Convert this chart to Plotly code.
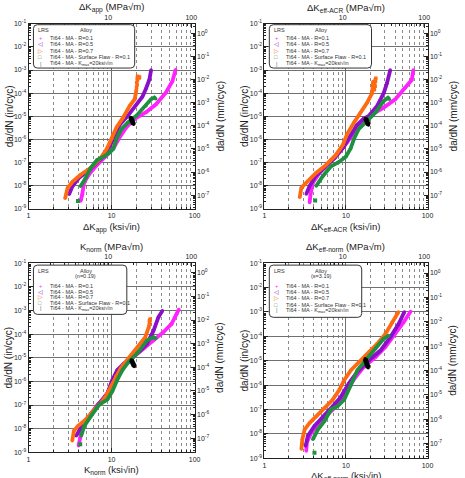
import math
import plotly.graph_objects as go

W, H = 465, 478
FONT = "Liberation Sans, Arial, sans-serif"
KSI_TO_MPA = 1.0988
IN_TO_MM = 25.4

C_R01 = "#ff22ff"
C_R05 = "#8a10c8"
C_R07 = "#ff6a10"
C_SF = "#1f9040"
C_KMAX = "#000000"

SERIES_NAMES = ["Ti64 - MA - R=0.1", "Ti64 - MA - R=0.5", "Ti64 - MA - R=0.7",
                "Ti64 - MA - Surface Flaw - R=0.1", "Ti64 - MA - K<sub>max</sub>=20ksi√in"]

# ---------------- Panel 1 : dK_app ----------------
P1_R01_X = [4.24, 4.44, 4.64, 5.31, 6.68, 8.4, 10.5, 12.6, 15.1, 19.0, 26.0, 34.3, 45.0, 54.0, 59.0]
P1_R01_Y = [2.2e-9, 4.3e-9, 1.3e-8, 3.0e-8, 8.0e-8, 1.8e-7, 4.0e-7, 1.3e-6, 3.4e-6, 7.7e-6, 1.5e-5, 3.3e-5, 1.05e-4, 3.3e-4, 1.02e-3]
P1_R05_X = [3.08, 3.38, 4.1, 5.5, 7.5, 9.5, 11.3, 12.6, 15.5, 19.9, 23.5, 26.0, 28.6, 29.9]
P1_R05_Y = [4.3e-9, 9.5e-9, 2.3e-8, 5.2e-8, 1.5e-7, 5.0e-7, 2.0e-6, 4.5e-6, 1.0e-5, 3.2e-5, 7.0e-5, 1.6e-4, 4.0e-4, 1.0e-3]
P1_R07_X = [2.76, 2.95, 3.38, 4.24, 5.57, 7.3, 8.77, 10.05, 11.5, 13.8, 16.6, 19.0, 19.9]
P1_R07_Y = [2.9e-9, 8e-9, 1.5e-8, 3e-8, 5.8e-8, 1.5e-7, 4e-7, 1.07e-6, 3.4e-6, 9e-6, 2.9e-5, 5.5e-5, 1.4e-4]
P1_R07T_X = [20.0, 20.3, 20.1, 20.5, 20.4, 20.6, 21.5, 21.7]
P1_R07T_Y = [1.8e-4, 2.3e-4, 2.9e-4, 3.6e-4, 4.4e-4, 5.4e-4, 4.5e-4, 5.0e-4]
P1_SF_X = [4.24, 4.85, 5.57, 6.68, 8.0, 9.2, 10.5, 11.5, 13.2, 15.8, 19.9, 26.0, 29.9, 32.7, 34.0]
P1_SF_Y = [9.5e-9, 2.1e-8, 5.7e-8, 1.3e-7, 1.8e-7, 2.5e-7, 4e-7, 1.1e-6, 2.9e-6, 5.5e-6, 1.07e-5, 2.9e-5, 5.5e-5, 6.5e-5, 5.8e-5]
P1_SFI_X = [3.94]
P1_SFI_Y = [2.2e-9]
P1_KM_X = [17.0, 17.3, 17.6, 17.9, 18.2, 18.4]
P1_KM_Y = [9e-6, 8e-6, 7e-6, 6e-6, 5e-6, 4.5e-6]

# ---------------- Panel 2 : dK_eff-ACR ----------------
P2_R01_X = [3.58, 3.68, 3.93, 4.73, 6.25, 8.3, 10.4, 12.6, 15.9, 20.9, 29.0, 40.2, 53.0, 64.0, 67.0]
P2_R01_Y = [1.9e-9, 4.4e-9, 1.35e-8, 3.6e-8, 1.1e-7, 3e-7, 7.8e-7, 2.1e-6, 5.5e-6, 1.23e-5, 2.4e-5, 5.4e-5, 1.7e-4, 3.7e-4, 1.0e-3]
P2_R05_X = [3.26, 3.58, 4.2, 5.5, 7.3, 9.3, 11.3, 13.5, 16.5, 19.1, 24.1, 29.0, 31.8, 34.9]
P2_R05_Y = [4.4e-9, 9.8e-9, 2.5e-8, 6e-8, 1.6e-7, 4.5e-7, 1.5e-6, 4e-6, 8e-6, 1.05e-5, 2.8e-5, 1e-4, 2.7e-4, 1e-3]
P2_R07_X = [2.71, 2.84, 3.41, 4.3, 5.7, 7.5, 9.1, 10.4, 12.6, 15.1, 18.2, 20.9, 21.5]
P2_R07_Y = [3.2e-9, 8.3e-9, 1.6e-8, 3.6e-8, 8e-8, 2.1e-7, 5.7e-7, 1.8e-6, 5.5e-6, 1.45e-5, 3.9e-5, 1e-4, 3.2e-4]
P2_R07T_X = [22.3, 22.8, 22.5, 23.0, 22.9, 23.2]
P2_R07T_Y = [1.4e-4, 2.0e-4, 2.6e-4, 3.3e-4, 3.8e-4, 4.4e-4]
P2_SF_X = [4.31, 5.19, 6.55, 8.3, 9.96, 11.4, 12.6, 14.4, 17.4, 23.0, 29.0, 32.7, 34.0]
P2_SF_Y = [9.8e-9, 2.6e-8, 6.9e-8, 1.1e-7, 1.8e-7, 4.1e-7, 1.1e-6, 2.9e-6, 5.5e-6, 1.45e-5, 4.6e-5, 6.3e-5, 5.5e-5]
P2_SFI_X = [4.19]
P2_SFI_Y = [2.3e-9]
P2_KM_X = [17.4, 17.7, 18.0, 18.3, 18.6, 18.9]
P2_KM_Y = [8e-6, 7e-6, 6e-6, 5.3e-6, 4.7e-6, 4.2e-6]

# ---------------- Panel 3 : K_norm ----------------
P3_R01_X = [4.0, 4.23, 4.5, 5.4, 6.8, 8.5, 10.2, 12.3, 14.7, 18.5, 24.3, 32.0, 42.0, 52.8, 60.6, 64.6]
P3_R01_Y = [1.9e-9, 5e-9, 1.3e-8, 3.4e-8, 1.05e-7, 2.3e-7, 6e-7, 1.9e-6, 4.9e-6, 1.1e-5, 2.4e-5, 5.4e-5, 1.2e-4, 2.7e-4, 6.9e-4, 1.1e-3]
P3_R05_X = [3.75, 4.11, 4.6, 5.6, 7.0, 8.9, 10.2, 11.7, 14.1, 17.7, 22.2, 26.7, 32.0, 36.6, 40.9]
P3_R05_Y = [5e-9, 9.5e-9, 1.8e-8, 4e-8, 1.1e-7, 3.2e-7, 1.15e-6, 3e-6, 5.7e-6, 1.1e-5, 2e-5, 3.9e-5, 1.4e-4, 5.1e-4, 9.6e-4]
P3_R07_X = [3.36, 3.52, 3.93, 4.93, 6.2, 7.4, 8.5, 9.8, 11.2, 12.9, 15.4, 18.5, 22.2, 25.5, 27.9]
P3_R07_Y = [3.1e-9, 8.1e-9, 1.3e-8, 2.5e-8, 6.4e-8, 1.2e-7, 2.3e-7, 6e-7, 1.6e-6, 3.6e-6, 8e-6, 1.75e-5, 3.9e-5, 7.4e-5, 1.9e-4]
P3_R07T_X = [28.1, 28.3, 28.8, 28.5, 29.0, 29.2]
P3_R07T_Y = [2.0e-4, 2.4e-4, 3.0e-4, 3.6e-4, 3.9e-4, 4.4e-4]
P3_SF_X = [4.3, 4.7, 5.65, 7.1, 8.9, 10.2, 11.7, 13.5, 16.1, 20.3, 26.7, 32.0, 34.0]
P3_SF_Y = [5e-9, 1.3e-8, 3.4e-8, 1.05e-7, 1.7e-7, 3.8e-7, 1.15e-6, 3e-6, 6.8e-6, 1.5e-5, 5.4e-5, 7.4e-5, 6.5e-5]
P3_SFI_X = [4.19]
P3_SFI_Y = [2.2e-9]
P3_KM_X = [17.3, 17.6, 17.9, 18.2, 18.5, 18.8]
P3_KM_Y = [8e-6, 7e-6, 6.2e-6, 5.4e-6, 4.8e-6, 4.3e-6]

# ---------------- Panel 4 : dK_eff-norm ----------------
P4_R01_X = [3.26, 3.32, 3.75, 4.52, 5.7, 7.5, 9.1, 10.9, 13.2, 16.6, 23.0, 30.4, 40.2, 50.7, 62.0]
P4_R01_Y = [2e-9, 4.5e-9, 1.1e-8, 2.4e-8, 5.3e-8, 1.35e-7, 2.5e-7, 8.7e-7, 2.2e-6, 5.6e-6, 1.4e-5, 3.6e-5, 1.26e-4, 3.7e-4, 1.05e-3]
P4_R05_X = [3.2, 3.41, 4.11, 5.3, 6.86, 8.5, 10.9, 13.8, 19.1, 26.4, 34.9, 44.1, 52.0]
P4_R05_Y = [3.2e-9, 8.3e-9, 2.1e-8, 5e-8, 1.35e-7, 3e-7, 1.2e-6, 3.5e-6, 1.05e-5, 2.6e-5, 9.1e-5, 3.2e-4, 1e-3]
P4_R07_X = [2.84, 2.92, 3.11, 3.58, 4.31, 5.44, 6.86, 8.26, 9.5, 11.5, 14.4, 19.1, 24.1, 30.4, 36.6, 44.0]
P4_R07_Y = [2.4e-9, 6e-9, 1.5e-8, 2.8e-8, 5.2e-8, 1.15e-7, 2.5e-7, 6.3e-7, 1.6e-6, 4.1e-6, 8.9e-6, 2.3e-5, 4.9e-5, 1.26e-4, 3.7e-4, 1e-3]
P4_R07T_X = []
P4_R07T_Y = []
P4_SF_X = [3.93, 4.52, 5.44, 6.55, 7.9, 9.5, 11.5, 13.8, 17.4, 23.0, 29.0, 33.4]
P4_SF_Y = [6e-9, 1.5e-8, 3.3e-8, 1e-7, 1.35e-7, 2.5e-7, 1e-6, 4.1e-6, 1.05e-5, 3.1e-5, 7.9e-5, 1.07e-4]
P4_SFI_X = [4.11]
P4_SFI_Y = [1.7e-9]
P4_KM_X = [17.2, 17.5, 17.8, 18.1, 18.4, 18.7]
P4_KM_Y = [1.2e-5, 1.0e-5, 8.5e-6, 7e-6, 6e-6, 5.2e-6]

PANEL_DATA = [
    dict(r01=(P1_R01_X, P1_R01_Y), r05=(P1_R05_X, P1_R05_Y), r07=(P1_R07_X, P1_R07_Y),
         r07t=(P1_R07T_X, P1_R07T_Y), sf=(P1_SF_X, P1_SF_Y), sfi=(P1_SFI_X, P1_SFI_Y), km=(P1_KM_X, P1_KM_Y)),
    dict(r01=(P2_R01_X, P2_R01_Y), r05=(P2_R05_X, P2_R05_Y), r07=(P2_R07_X, P2_R07_Y),
         r07t=(P2_R07T_X, P2_R07T_Y), sf=(P2_SF_X, P2_SF_Y), sfi=(P2_SFI_X, P2_SFI_Y), km=(P2_KM_X, P2_KM_Y)),
    dict(r01=(P3_R01_X, P3_R01_Y), r05=(P3_R05_X, P3_R05_Y), r07=(P3_R07_X, P3_R07_Y),
         r07t=(P3_R07T_X, P3_R07T_Y), sf=(P3_SF_X, P3_SF_Y), sfi=(P3_SFI_X, P3_SFI_Y), km=(P3_KM_X, P3_KM_Y)),
    dict(r01=(P4_R01_X, P4_R01_Y), r05=(P4_R05_X, P4_R05_Y), r07=(P4_R07_X, P4_R07_Y),
         r07t=(P4_R07T_X, P4_R07T_Y), sf=(P4_SF_X, P4_SF_Y), sfi=(P4_SFI_X, P4_SFI_Y), km=(P4_KM_X, P4_KM_Y)),
]

X_TICKS = [1, 10, 100]
X_TICK_TEXT = ["1", "10", "100"]
TOP_TICKS = [10, 100]
TOP_TICK_TEXT = ["10", "100"]
Y_EXPS = list(range(-9, 0))
R_EXPS = list(range(-7, 1))

# panel boxes in pixels: x0, x1, y0(top), y1(bottom)
PANELS = [
    dict(box=(27, 196, 20, 208), xsym="ΔK<sub>app</sub>", extra=None,
         leg=(32, 135, 21, 65)),
    dict(box=(267, 433, 20, 208), xsym="ΔK<sub>eff-ACR</sub>", extra=None,
         leg=(272, 376, 21, 65)),
    dict(box=(27, 196, 263, 455), xsym="K<sub>norm</sub>", extra="(n=0.19)",
         leg=(32, 127, 265, 315)),
    dict(box=(267, 433, 263, 461), xsym="ΔK<sub>eff-norm</sub>", extra="(s=3.19)",
         leg=(272, 366, 265, 318)),
]
LEG_ROWS = [
    [34.5, 41.0, 47.5, 54.0, 60.5],
    [34.5, 41.0, 47.5, 54.0, 60.5],
    [286.5, 291.8, 297.0, 303.3, 308.7],
    [286.5, 292.5, 298.5, 305.0, 311.0],
]


def px(x):
    return x / W


def py(y):
    return 1 - y / H


def aname(kind, n):
    return f"{kind}axis" if n == 1 else f"{kind}axis{n}"


def aref(kind, n):
    return kind if n == 1 else f"{kind}{n}"


def minors(lo_dec, hi_dec):
    out = []
    for d in range(lo_dec, hi_dec):
        for m in range(2, 10):
            out.append(m * 10 ** d)
    return out


fig = go.Figure()
layout = dict(width=W, height=H, margin=dict(l=0, r=0, t=0, b=0),
              paper_bgcolor="white", plot_bgcolor="white", showlegend=False,
              font=dict(family=FONT, color="#222"))
shapes = []
annotations = []

AXCOL = "#222"
GRID = "#707070"
GRID_DASH = "#8a8a8a"

for k, p in enumerate(PANELS):
    bx, tx = 2 * k + 1, 2 * k + 2
    ly, ry = 2 * k + 1, 2 * k + 2
    x0, x1, y0, y1 = p["box"]
    xdom = [px(x0), px(x1)]
    ydom = [py(y1), py(y0)]
    common = dict(type="log", showline=True, linecolor=AXCOL, linewidth=1, zeroline=False,
                  color="#222", ticks="inside", ticklen=4, tickcolor=AXCOL,
                  tickfont=dict(size=7, color="#222", family=FONT))
    layout[aname("x", bx)] = dict(
        domain=xdom, anchor=aref("y", ly), range=[0, 2], tickmode="array",
        tickvals=X_TICKS, ticktext=X_TICK_TEXT, showgrid=True, gridcolor=GRID, gridwidth=1,
        minor=dict(tickmode="array", tickvals=minors(0, 2), ticks="inside", ticklen=2,
                   tickcolor=AXCOL, showgrid=True, gridcolor=GRID_DASH, griddash="3px,3px", gridwidth=1),
        **common)
    layout[aname("x", tx)] = dict(
        domain=xdom, anchor=aref("y", ly), overlaying=aref("x", bx), side="top",
        range=[math.log10(KSI_TO_MPA), math.log10(100 * KSI_TO_MPA)], tickmode="array",
        tickvals=TOP_TICKS, ticktext=TOP_TICK_TEXT, showgrid=False,
        minor=dict(tickmode="array", tickvals=minors(0, 3), ticks="inside", ticklen=2, tickcolor=AXCOL),
        **common)
    layout[aname("y", ly)] = dict(
        domain=ydom, anchor=aref("x", bx), range=[-9, -1], tickmode="array",
        tickvals=[10.0 ** e for e in Y_EXPS], ticktext=[f"10<sup>{e}</sup>" for e in Y_EXPS],
        showgrid=True, gridcolor=GRID, gridwidth=1,
        minor=dict(tickmode="array", tickvals=minors(-9, -1), ticks="inside", ticklen=2, tickcolor=AXCOL),
        **common)
    layout[aname("y", ry)] = dict(
        domain=ydom, anchor=aref("x", bx), overlaying=aref("y", ly), side="right",
        range=[math.log10(1e-9 * IN_TO_MM), math.log10(1e-1 * IN_TO_MM)], tickmode="array",
        tickvals=[10.0 ** e for e in R_EXPS], ticktext=[f"10<sup>{e}</sup>" for e in R_EXPS],
        showgrid=False,
        minor=dict(tickmode="array", tickvals=minors(-8, 1), ticks="inside", ticklen=2, tickcolor=AXCOL),
        **common)

    # empty trace so that the secondary (MPa / mm) axes get drawn
    fig.add_trace(go.Scatter(x=[], y=[], mode="markers", xaxis=aref("x", tx), yaxis=aref("y", ry),
                             hoverinfo="skip"))

    d = PANEL_DATA[k]
    xr, yr = aref("x", bx), aref("y", ly)

    def line_trace(xy, color, width=3.8):
        fig.add_trace(go.Scatter(x=xy[0], y=xy[1], mode="lines+markers", xaxis=xr, yaxis=yr,
                                 line=dict(color=color, width=width),
                                 marker=dict(color=color, size=3.5, symbol="circle"),
                                 hoverinfo="skip"))

    def pt_trace(xy, color, size=4, symbol="square"):
        if len(xy[0]) == 0:
            return
        fig.add_trace(go.Scatter(x=xy[0], y=xy[1], mode="markers", xaxis=xr, yaxis=yr,
                                 marker=dict(color=color, size=size, symbol=symbol),
                                 hoverinfo="skip"))

    line_trace(d["r01"], C_R01)
    line_trace(d["r05"], C_R05)
    line_trace(d["r07"], C_R07)
    pt_trace(d["r07t"], C_R07, size=3.5)
    line_trace(d["sf"], C_SF)
    pt_trace(d["sfi"], C_SF, size=4)
    line_trace(d["km"], C_KMAX, width=5)

    # axis titles
    cx = (x0 + x1) / 2
    cy = (y0 + y1) / 2
    xsym = p["xsym"]
    annotations.append(dict(x=px(cx), y=py(y1 + 16), xref="paper", yref="paper",
                            text=f"{xsym} (ksi√in)", showarrow=False, xanchor="center",
                            yanchor="top", yshift=6, font=dict(size=9.5, color="#222")))
    annotations.append(dict(x=px(cx), y=py(y0 - 16), xref="paper", yref="paper",
                            text=f"{xsym} (MPa√m)", showarrow=False, xanchor="center",
                            yanchor="middle", font=dict(size=9.5, color="#222")))
    annotations.append(dict(x=px(x0 - 20), y=py(cy), xref="paper", yref="paper",
                            text="da/dN (in/cyc)", showarrow=False, textangle=-90,
                            xanchor="center", yanchor="middle", font=dict(size=10, color="#222")))
    annotations.append(dict(x=px(x1 + 26), y=py(cy), xref="paper", yref="paper",
                            text="da/dN (mm/cyc)", showarrow=False, textangle=-90,
                            xanchor="center", yanchor="middle", font=dict(size=10, color="#222")))

    # legend box
    lx0, lx1, ly0, ly1 = p["leg"]
    r = 4
    path = (f"M {px(lx0 + r)} {py(ly0)} L {px(lx1 - r)} {py(ly0)} "
            f"Q {px(lx1)} {py(ly0)} {px(lx1)} {py(ly0 + r)} L {px(lx1)} {py(ly1 - r)} "
            f"Q {px(lx1)} {py(ly1)} {px(lx1 - r)} {py(ly1)} L {px(lx0 + r)} {py(ly1)} "
            f"Q {px(lx0)} {py(ly1)} {px(lx0)} {py(ly1 - r)} L {px(lx0)} {py(ly0 + r)} "
            f"Q {px(lx0)} {py(ly0)} {px(lx0 + r)} {py(ly0)} Z")
    shapes.append(dict(type="path", path=path, xref="paper", yref="paper",
                       line=dict(color="#333", width=1), fillcolor="white", layer="above"))
    annotations.append(dict(x=px(lx0 + 3), y=py(ly0 + 5.5), xref="paper", yref="paper",
                            text="LRS", showarrow=False, xanchor="left", yanchor="middle",
                            font=dict(size=5.5, color="#333")))
    annotations.append(dict(x=px(lx0 + 53), y=py(ly0 + 5.5), xref="paper", yref="paper",
                            text="Alloy", showarrow=False, xanchor="center", yanchor="middle",
                            font=dict(size=5.5, color="#333")))
    if p["extra"]:
        annotations.append(dict(x=px(lx0 + 53), y=py(ly0 + 11), xref="paper", yref="paper",
                                text=p["extra"], showarrow=False, xanchor="center", yanchor="middle",
                                font=dict(size=5.5, color="#333")))
    glyphs = [("+", C_R01), ("◁", C_R05), ("▷", C_R07), ("□", C_SF), ("|", "#666")]
    for i, yy in enumerate(LEG_ROWS[k]):
        g, gc = glyphs[i]
        annotations.append(dict(x=px(lx0 + 7), y=py(yy), xref="paper", yref="paper",
                                text=g, showarrow=False, xanchor="center", yanchor="middle",
                                font=dict(size=5.5, color=gc)))
        annotations.append(dict(x=px(lx0 + 14.5), y=py(yy), xref="paper", yref="paper",
                                text=SERIES_NAMES[i], showarrow=False, xanchor="left", yanchor="middle",
                                font=dict(size=5.5, color="#333")))

layout["shapes"] = shapes
layout["annotations"] = annotations
fig.update_layout(**layout)
fig.write_html("out.html")
